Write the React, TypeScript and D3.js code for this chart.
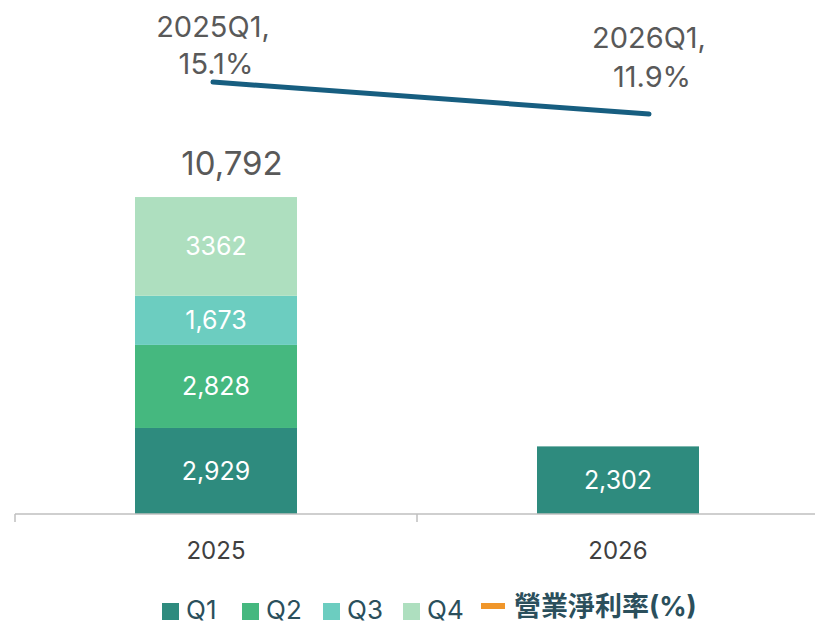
import React, { useEffect, useRef } from "react";
import * as d3 from "d3";

const years = ["2025", "2026"];
const quarters = ["Q1", "Q2", "Q3", "Q4"];
const q1 = [2929, 2302];
const q2 = [2828, 0];
const q3 = [1673, 0];
const q4 = [3362, 0];
const quarterLabels = [
  ["2,929", "2,302"],
  ["2,828", ""],
  ["1,673", ""],
  ["3362", ""],
];
const totals = [10792];
const totalLabels = ["10,792"];
const marginLabels = ["2025Q1", "2026Q1"];
const marginValues = [15.1, 11.9];

const colors = ["#2e8b7e", "#45b87f", "#6ccdc0", "#aedfbf"];
const lineColor = "#175e80";
const legendLine = "#f0962a";
const font = "Inter, 'Noto Sans CJK TC', 'DejaVu Sans', sans-serif";
// label offsets above each margin point (line 1, line 2)
const labelOffsets = [
  [-45, -8],
  [-66, -27],
];

const App: React.FC = () => {
  const svgRef = useRef<SVGSVGElement | null>(null);
  const width = 815;
  const height = 626;

  useEffect(() => {
    if (!svgRef.current) return;
    const svg = d3.select(svgRef.current);
    svg.selectAll("*").remove();

    const x = d3.scaleBand().domain(years).range([15, 819]).paddingInner(0).paddingOuter(0);
    const barW = 162;
    const y = d3.scaleLinear().domain([0, 12000]).range([514, 514 - 12000 * 0.02937]);
    const yLine = d3.scaleLinear().domain([0, 20]).range([233, 33]);
    const xLine = d3.scalePoint().domain(marginLabels).range([213, 649]);

    const series = [q1, q2, q3, q4];
    const rows = years.map((yr, i) => ({
      year: yr,
      Q1: q1[i],
      Q2: q2[i],
      Q3: q3[i],
      Q4: q4[i],
    }));
    const stack = d3.stack<any>().keys(quarters)(rows);

    const g = svg.append("g");

    stack.forEach((layer, li) => {
      layer.forEach((d, i) => {
        const v = series[li][i];
        if (!v) return;
        const cx = (x(years[i]) as number) + x.bandwidth() / 2;
        g.append("rect")
          .attr("x", cx - barW / 2)
          .attr("y", y(d[1]))
          .attr("width", barW)
          .attr("height", y(d[0]) - y(d[1]))
          .attr("fill", colors[li]);
        g.append("text")
          .attr("x", cx)
          .attr("y", (y(d[0]) + y(d[1])) / 2)
          .attr("dy", "0.36em")
          .attr("text-anchor", "middle")
          .attr("fill", "#fff")
          .style("font-family", font)
          .style("font-size", "25px")
          .text(quarterLabels[li][i]);
      });
    });

    // total label
    totals.forEach((t, i) => {
      const cx = (x(years[i]) as number) + x.bandwidth() / 2;
      g.append("text")
        .attr("x", cx + 16)
        .attr("y", y(t) - 22)
        .attr("text-anchor", "middle")
        .attr("fill", "#595959")
        .style("font-family", font)
        .style("font-size", "33px")
        .text(totalLabels[i]);
    });

    // x axis
    const axisY = 514;
    g.append("line")
      .attr("x1", 15)
      .attr("x2", 815)
      .attr("y1", axisY)
      .attr("y2", axisY)
      .attr("stroke", "#bfbfbf")
      .attr("stroke-width", 1.5);
    [15, 417].forEach((tx) => {
      g.append("line")
        .attr("x1", tx)
        .attr("x2", tx)
        .attr("y1", axisY)
        .attr("y2", axisY + 8)
        .attr("stroke", "#bfbfbf")
        .attr("stroke-width", 1.5);
    });
    years.forEach((yr) => {
      g.append("text")
        .attr("x", (x(yr) as number) + x.bandwidth() / 2)
        .attr("y", 559)
        .attr("text-anchor", "middle")
        .attr("fill", "#404040")
        .style("font-family", font)
        .style("font-size", "24px")
        .text(yr);
    });

    // margin line
    const line = d3
      .line<number>()
      .x((_, i) => xLine(marginLabels[i]) as number)
      .y((d) => yLine(d));
    g.append("path")
      .datum(marginValues)
      .attr("d", line)
      .attr("fill", "none")
      .attr("stroke", lineColor)
      .attr("stroke-width", 5)
      .attr("stroke-linecap", "round");

    marginValues.forEach((v, i) => {
      const px = xLine(marginLabels[i]) as number;
      const py = yLine(v);
      const t = g
        .append("text")
        .attr("text-anchor", "middle")
        .attr("fill", "#595959")
        .style("font-family", font)
        .style("font-size", "29px");
      t.append("tspan").attr("x", px).attr("y", py + labelOffsets[i][0]).text(`${marginLabels[i]},`);
      t.append("tspan").attr("x", px + 3).attr("y", py + labelOffsets[i][1]).text(`${v.toFixed(1)}%`);
    });

    // legend
    const base = 619;
    const legendX = [162, 242, 323, 403];
    quarters.forEach((q, i) => {
      g.append("rect")
        .attr("x", legendX[i])
        .attr("y", 603)
        .attr("width", 17)
        .attr("height", 17)
        .attr("fill", colors[i]);
      g.append("text")
        .attr("x", legendX[i] + 24)
        .attr("y", base)
        .attr("fill", "#2b4f5c")
        .style("font-family", font)
        .style("font-size", "26px")
        .text(q);
    });
    g.append("line")
      .attr("x1", 481)
      .attr("x2", 505)
      .attr("y1", 606)
      .attr("y2", 606)
      .attr("stroke", legendLine)
      .attr("stroke-width", 6);
    g.append("text")
      .attr("x", 514)
      .attr("y", 616)
      .attr("fill", "#2b4f5c")
      .style("font-family", font)
      .style("font-size", "27px")
      .style("font-weight", "bold")
      .text("營業淨利率(%)");
  }, []);

  return (
    <svg
      ref={svgRef}
      width={width}
      height={height}
      style={{ position: "absolute", left: 0, top: 0, background: "#fff" }}
    />
  );
};

export default App;
